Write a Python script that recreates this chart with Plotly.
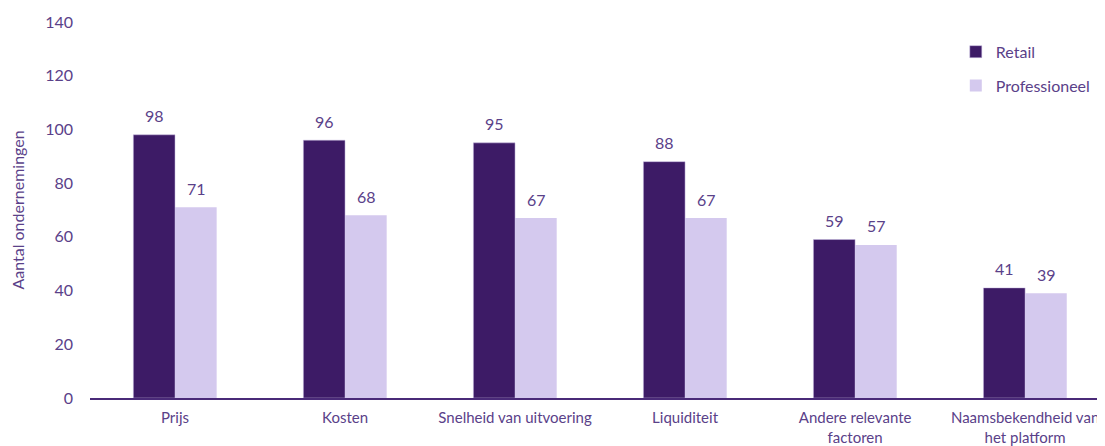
import plotly.graph_objects as go

categories = ["Prijs", "Kosten", "Snelheid van uitvoering", "Liquiditeit",
              "Andere relevante<br>factoren", "Naamsbekendheid van<br>het platform"]
retail = [98, 96, 95, 88, 59, 41]
professioneel = [71, 68, 67, 67, 57, 39]
y_ticks = [0, 20, 40, 60, 80, 100, 120, 140]

DARK = "#3d1b66"
LIGHT = "#d4c9ee"
TXT = "#5a4189"
FONT = "Lato"

fig = go.Figure()
fig.add_trace(go.Bar(x=categories, y=retail, name="Retail", marker_color=DARK,
                     marker_line=dict(color="#c9bde3", width=0.5), legendgroup="a"))
fig.add_trace(go.Bar(x=categories, y=professioneel, name="Professioneel", marker_color=LIGHT,
                     marker_line=dict(width=0), legendgroup="b"))

for series, shift in ((retail, -21), (professioneel, 21)):
    for c, v in zip(categories, series):
        fig.add_annotation(x=c, y=v, text=str(v), showarrow=False, xshift=shift,
                           yshift=19, font=dict(family=FONT, size=16, color=TXT))

fig.update_layout(
    width=1105, height=446,
    margin=dict(l=82, r=8, t=14, b=56),
    plot_bgcolor="white", paper_bgcolor="white",
    barmode="group", bargap=0.51, bargroupgap=0,
    font=dict(family=FONT, size=16, color=TXT),
    legend=dict(x=0.853, y=0.966, xanchor="left", yanchor="top",
                font=dict(family=FONT, size=16, color=TXT),
                tracegroupgap=10, bgcolor="rgba(0,0,0,0)"),
    showlegend=True,
)
fig.update_xaxes(range=[-0.5, 5.47], showline=True, linecolor="#4a2a78", linewidth=2,
                 ticks="", ticklabelstandoff=5,
                 tickfont=dict(family=FONT, size=15, color=TXT),
                 showgrid=False, fixedrange=True, automargin=False)
fig.update_yaxes(range=[0, 140], tickvals=y_ticks, showgrid=False, zeroline=False,
                 showline=False, ticks="", ticklabelstandoff=16, automargin=False,
                 tickfont=dict(family=FONT, size=16, color=TXT),
                 title=dict(text="Aantal ondernemingen", standoff=16,
                            font=dict(family=FONT, size=16, color=TXT)))

fig.write_html("out.html")
